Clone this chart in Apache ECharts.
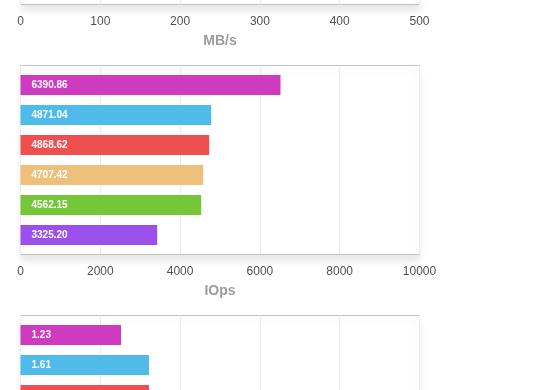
<!DOCTYPE html>
<html><head><meta charset="utf-8">
<script src="https://cdn.jsdelivr.net/npm/echarts@6/dist/echarts.min.js"></script>
<style>html,body{margin:0;padding:0;background:#fff;overflow:hidden}#c{width:560px;height:390px}</style>
</head><body><div id="c"></div>
<script>
// ---- data ----
const categories = ['Drive 1', 'Drive 2', 'Drive 3', 'Drive 4', 'Drive 5', 'Drive 6'];
const barColors = ['#cf3bbf', '#4fbbeb', '#ee5050', '#edc07c', '#76c63a', '#9b50ec'];

const mbTicks = [0, 100, 200, 300, 400, 500];
const mbValues = [];            // bars of the MB/s panel are scrolled out of view
const mbLabels = [];

const iopsTicks = [0, 2000, 4000, 6000, 8000, 10000];
const iopsValues = [6516, 4779, 4729, 4579, 4529, 3426];
const iopsLabels = ['6390.86', '4871.04', '4868.62', '4707.42', '4562.15', '3325.20'];

const latTicks = [0, 1, 2, 3, 4, 5];
const latValues = [1.26, 1.61, 1.61];
const latLabels = ['1.23', '1.61', ''];

// ---- chart ----
const FONT = '"Liberation Sans", Arial, Helvetica, sans-serif';
const panels = [
  { name: 'MB/s', ticks: mbTicks, values: mbValues, labels: mbLabels, top: -184.5 },
  { name: 'IOps', ticks: iopsTicks, values: iopsValues, labels: iopsLabels, top: 65.5 },
  { name: '', ticks: latTicks, values: latValues, labels: latLabels, top: 315.5 }
];

const grid = [], xAxis = [], yAxis = [], series = [];
panels.forEach((p, i) => {
  const min = p.ticks[0], max = p.ticks[p.ticks.length - 1], interval = p.ticks[1] - p.ticks[0];
  const o = 2 * i, n = 2 * i + 1;
  grid.push({
    left: 20.5, width: 399, top: p.top, height: 189, show: true,
    containLabel: false, outerBoundsMode: 'none',
    backgroundColor: '#fff', borderColor: '#c2c2c2', borderWidth: 1,
    shadowColor: 'rgba(0,0,0,0.10)', shadowBlur: 7, shadowOffsetY: 6
  });
  grid.push({ left: 20.5, width: 399, top: p.top + 4.5, height: 180, show: false,
    containLabel: false, outerBoundsMode: 'none' });
  xAxis.push({
    gridIndex: o, type: 'value', min: min, max: max, interval: interval,
    axisLine: { show: false }, axisTick: { show: false },
    splitLine: { show: true, lineStyle: { color: '#ececec', width: 1 } },
    axisLabel: { color: '#505050', fontSize: 12, margin: 11, fontFamily: FONT,
      formatter: (v) => String(v) },
    name: p.name, nameLocation: 'middle', nameGap: 30,
    nameTextStyle: { color: '#9c9c9c', fontSize: 14, fontWeight: 'bold', fontFamily: FONT }
  });
  xAxis.push({ gridIndex: n, type: 'value', min: min, max: max, interval: interval, show: false });
  yAxis.push({ gridIndex: o, type: 'category', data: categories, show: false });
  yAxis.push({ gridIndex: n, type: 'category', data: categories, inverse: true, show: false });
  series.push({
    type: 'bar', xAxisIndex: n, yAxisIndex: n, barWidth: 20, animation: false,
    data: p.values.map((v, k) => ({ value: v, itemStyle: { color: barColors[k] } })),
    label: {
      show: true, position: 'insideLeft', distance: 11, color: '#fff',
      fontSize: 10, fontWeight: 'bold', fontFamily: FONT,
      formatter: (q) => p.labels[q.dataIndex] || ''
    }
  });
});

const chart = echarts.init(document.getElementById('c'), null, { renderer: 'canvas' });
chart.setOption({ animation: false, grid, xAxis, yAxis, series });
</script></body></html>
